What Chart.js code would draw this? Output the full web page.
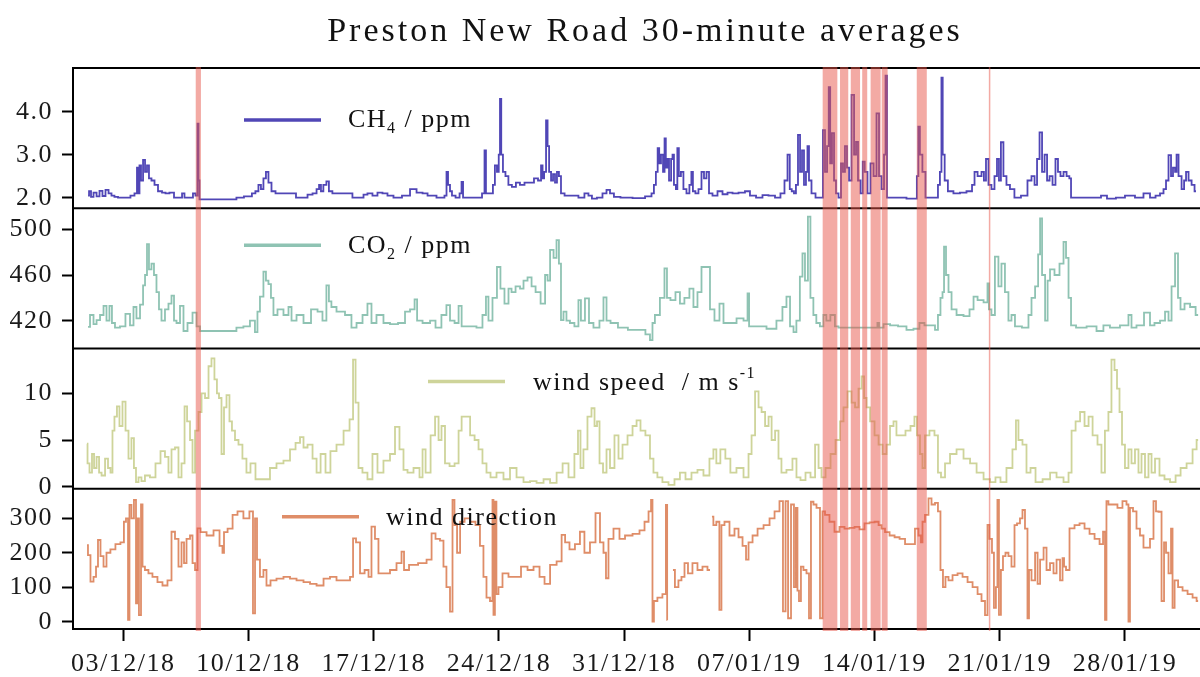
<!DOCTYPE html>
<html>
<head>
<meta charset="UTF-8">
<title>Preston New Road 30-minute averages</title>
<script src="https://cdn.jsdelivr.net/npm/chart.js"></script>
<style>
  body { margin: 0; background: #fff; }
  canvas { display: block; }
</style>
</head>
<body>
<canvas id="pnr-chart" width="1200" height="677"></canvas>
<script>
// time is in days since 03/12/18 00:00
const chartTitle = 'Preston New Road 30-minute averages';
const xTickDays = [0, 7, 14, 21, 28, 35, 42, 49, 56];
const xTickLabels = ['03/12/18', '10/12/18', '17/12/18', '24/12/18', '31/12/18', '07/01/19', '14/01/19', '21/01/19', '28/01/19'];

// flagged periods (red bands), start / end in days
const bandStart = [4.05, 39.10, 40.07, 40.67, 41.31, 41.78, 42.40, 44.36, 48.39];
const bandEnd   = [4.34, 39.92, 40.53, 41.19, 41.59, 42.34, 42.73, 44.92, 48.45];

// [day, CH4 ppm]
const ch4Series = [[-1.97,2.05],[-1.86,2.15],[-1.75,2.02],[-1.58,2.12],[-1.41,2.03],[-1.25,2.16],[-1.08,2.04],[-0.91,2.18],[-0.74,2.1],[-0.58,2.05],[-0.41,2.02],[-0.18,2.0],[0.26,2.0],[0.54,2.05],[0.71,2.1],[0.82,2.7],[0.88,2.1],[0.93,2.75],[1.05,2.4],[1.16,2.88],[1.27,2.6],[1.38,2.75],[1.49,2.45],[1.66,2.4],[1.83,2.3],[2.05,2.15],[2.28,2.12],[2.44,2.1],[2.72,2.12],[2.95,2.0],[3.23,2.0],[3.34,2.1],[3.5,2.0],[3.84,2.0],[3.95,2.1],[4.12,2.05],[4.18,3.72],[4.23,2.4],[4.29,1.96],[6.24,1.96],[6.41,2.0],[7.08,2.03],[7.3,2.1],[7.47,2.15],[7.64,2.3],[7.75,2.2],[7.92,2.45],[8.03,2.6],[8.2,2.35],[8.37,2.15],[8.65,2.1],[9.43,2.1],[9.88,2.0],[10.16,2.0],[10.44,2.07],[10.72,2.1],[10.89,2.2],[11.0,2.3],[11.1,2.15],[11.27,2.3],[11.44,2.38],[11.55,2.15],[11.83,2.1],[12.67,2.1],[12.95,2.0],[13.35,2.0],[13.51,2.07],[13.79,2.1],[14.07,2.05],[14.35,2.12],[14.63,2.1],[14.91,2.05],[15.3,2.0],[15.86,2.05],[16.2,2.2],[16.59,2.12],[16.87,2.1],[17.15,2.05],[17.87,2.0],[18.04,2.05],[18.1,2.6],[18.21,2.3],[18.32,2.15],[18.43,2.05],[18.72,2.0],[18.88,2.1],[18.94,2.37],[19.05,2.0],[19.94,2.0],[20.17,2.1],[20.22,3.1],[20.33,2.1],[20.61,2.1],[20.72,2.3],[20.83,2.75],[20.95,2.6],[21.03,3.0],[21.09,4.3],[21.17,3.0],[21.28,2.6],[21.45,2.5],[21.61,2.3],[21.84,2.25],[22.06,2.35],[22.29,2.3],[22.57,2.35],[22.85,2.35],[23.07,2.45],[23.3,2.4],[23.41,2.75],[23.47,2.45],[23.58,2.6],[23.69,3.8],[23.75,3.2],[23.86,2.6],[23.97,2.4],[24.08,2.55],[24.19,2.35],[24.3,2.6],[24.41,2.5],[24.53,2.1],[24.81,2.05],[25.25,2.05],[25.64,2.0],[25.92,2.1],[26.09,2.05],[26.31,1.98],[26.65,2.0],[26.93,2.1],[27.1,2.18],[27.32,2.1],[27.54,2.02],[28.05,2.0],[28.89,1.99],[29.45,2.03],[29.61,2.1],[29.72,2.3],[29.83,2.6],[29.92,3.15],[30.0,2.8],[30.12,3.0],[30.23,2.6],[30.29,3.38],[30.37,2.7],[30.45,2.9],[30.57,2.4],[30.68,2.9],[30.73,3.0],[30.84,2.3],[30.95,2.2],[31.0,3.15],[31.12,2.5],[31.23,2.6],[31.4,2.2],[31.57,2.1],[31.73,2.3],[31.79,2.6],[31.9,2.15],[32.07,2.1],[32.24,2.2],[32.41,2.6],[32.52,2.45],[32.69,2.6],[32.8,2.1],[33.08,2.05],[33.36,2.15],[33.64,2.08],[33.92,2.12],[34.2,2.1],[34.59,2.12],[34.92,2.15],[35.15,2.05],[35.6,2.0],[35.87,2.06],[36.27,2.05],[36.6,2.0],[36.88,2.1],[37.05,2.4],[37.22,3.0],[37.3,2.2],[37.44,2.15],[37.55,2.1],[37.66,2.3],[37.78,3.46],[37.89,2.6],[38.0,3.1],[38.11,2.3],[38.22,2.6],[38.28,3.2],[38.39,2.4],[38.56,2.1],[38.84,2.0],[39.06,2.0],[39.17,3.57],[39.29,2.6],[39.4,3.2],[39.48,4.57],[39.56,2.8],[39.68,3.5],[39.79,2.4],[39.9,2.1],[40.07,2.0],[40.18,2.8],[40.29,2.6],[40.4,3.2],[40.52,2.7],[40.63,2.4],[40.8,4.39],[40.91,3.0],[41.02,3.3],[41.13,2.4],[41.3,2.1],[41.38,2.84],[41.52,2.6],[41.69,2.1],[41.86,2.8],[42.03,2.5],[42.19,3.96],[42.31,2.5],[42.47,2.2],[42.59,3.0],[42.64,4.84],[42.75,2.0],[43.7,2.0],[43.87,1.98],[44.31,1.98],[44.42,2.5],[44.48,3.65],[44.59,3.0],[44.76,2.6],[44.93,2.0],[45.49,2.0],[45.6,2.3],[45.71,2.6],[45.77,4.79],[45.85,3.0],[45.99,2.4],[46.21,2.15],[46.61,2.1],[46.94,2.12],[47.34,2.15],[47.56,2.3],[47.62,2.6],[47.9,2.5],[48.06,2.6],[48.17,2.4],[48.29,2.9],[48.45,2.3],[48.62,2.2],[48.79,2.5],[48.9,2.9],[49.01,2.4],[49.12,3.29],[49.29,2.5],[49.46,2.3],[49.68,2.2],[49.96,2.0],[50.41,2.05],[50.69,2.4],[50.86,2.5],[51.03,2.3],[51.14,2.9],[51.31,3.52],[51.42,2.6],[51.59,3.0],[51.7,2.4],[51.87,2.5],[52.03,2.3],[52.2,2.9],[52.31,2.6],[52.48,2.5],[52.65,2.6],[52.82,2.5],[52.96,2.45],[53.01,2.0],[54.6,2.0],[54.72,2.05],[55.27,1.98],[55.72,2.0],[56.28,2.05],[56.84,2.0],[57.23,2.1],[57.57,2.0],[57.85,2.05],[58.07,2.1],[58.24,2.2],[58.35,2.4],[58.52,2.99],[58.63,2.5],[58.74,2.7],[58.86,2.6],[58.91,3.0],[59.08,2.5],[59.25,2.2],[59.36,2.4],[59.47,2.6],[59.64,2.4],[59.81,2.3],[59.97,2.15]];

// [day, CO2 ppm]
const co2Series = [[-1.97,414.7],[-1.75,425],[-1.58,417],[-1.41,420.6],[-1.19,425],[-1.02,433],[-0.86,420],[-0.69,433],[-0.58,418],[-0.35,414],[-0.02,415],[0.26,426],[0.49,416],[0.65,432],[0.82,422],[1.05,434],[1.16,451],[1.27,460],[1.38,487],[1.49,465],[1.66,470],[1.77,460],[1.94,445],[2.05,430],[2.22,420],[2.44,430],[2.61,435],[2.78,442],[2.89,420],[3.06,418],[3.28,433],[3.45,411],[3.73,418],[4.01,427],[4.18,415],[4.4,411],[6.13,411],[6.52,414],[6.91,415],[7.25,420],[7.47,410],[7.53,428],[7.75,441],[7.92,463],[8.03,455],[8.2,452],[8.31,440],[8.48,425],[8.76,430],[9.15,425],[9.32,432],[9.49,420],[9.88,425],[10.27,418],[10.72,430],[11.0,428],[11.27,420],[11.44,451],[11.55,437],[11.72,432],[12.12,428],[12.67,425],[12.84,414],[13.24,418],[13.51,425],[13.79,435],[13.96,418],[14.35,425],[14.74,418],[15.08,417],[15.64,418],[15.86,428],[16.2,430],[16.37,438.7],[16.48,420],[16.98,418],[17.32,420],[17.59,414],[17.98,425],[18.15,433.7],[18.38,420],[18.66,418],[18.83,433],[19.0,415],[19.55,415],[19.94,414],[20.22,425],[20.33,441],[20.5,420],[20.78,440],[21.0,467],[21.17,448],[21.45,435],[21.62,448],[21.79,445],[22.07,450],[22.29,448],[22.46,455],[22.74,458],[22.91,450],[23.19,445],[23.47,435],[23.69,460],[23.75,455],[23.97,482],[24.14,475],[24.3,490.6],[24.41,470],[24.53,420.6],[24.69,428],[24.86,420],[25.08,418],[25.36,415],[25.53,438],[25.64,420],[25.98,439.5],[26.09,418],[26.48,414],[26.76,420],[26.93,440.4],[27.1,420],[27.38,418],[27.93,414],[28.49,412],[29.05,412],[29.33,408],[29.56,403],[29.61,418],[29.83,425],[30.17,440],[30.34,465.8],[30.45,440],[30.73,438],[31.01,445],[31.23,435],[31.51,440],[31.79,448],[31.96,432],[32.24,445],[32.41,467],[32.69,467],[32.91,430],[33.19,420],[33.47,435],[33.64,418],[34.09,418],[34.48,422],[34.87,420],[34.93,444],[35.04,415],[35.6,415],[36.32,413],[36.71,420],[36.99,432],[37.16,441],[37.39,415],[37.55,410],[37.71,420],[37.94,458.5],[38.0,479],[38.22,455],[38.33,511],[38.5,440],[38.66,425],[38.83,418],[39.06,415],[39.22,425],[39.39,420],[39.67,425],[39.9,415],[40.07,414],[42.13,414],[42.19,418],[42.31,414],[42.7,417],[43.04,416],[43.59,415],[43.98,412],[44.37,413],[44.65,418],[44.93,416],[45.27,416],[45.49,412],[45.6,425],[45.77,440],[45.83,445],[45.94,484.8],[46.05,460],[46.22,445],[46.39,430],[46.78,425],[47.17,424],[47.45,430],[47.62,441],[47.9,438],[48.29,436],[48.34,452.7],[48.45,430],[48.62,425],[48.84,476],[49.01,450],[49.18,470],[49.4,445],[49.57,420],[49.74,425],[49.96,415],[50.52,414],[50.69,425],[50.86,440],[51.09,450],[51.2,478],[51.31,509.6],[51.42,460],[51.65,420],[51.7,455],[51.92,465],[52.2,460],[52.48,470],[52.65,489],[52.76,475],[52.93,440],[53.04,416],[53.49,414],[54.22,415],[54.6,411],[54.99,416],[55.33,414],[56.11,416],[56.28,425],[56.45,414],[56.84,416],[57.29,427],[57.51,416],[57.79,418],[58.13,420],[58.35,428],[58.52,420],[58.69,450],[58.91,479],[59.02,440],[59.19,430],[59.47,435],[59.81,432],[60.09,425]];

// [day, wind speed m/s]
const wsSeries = [[-2.03,4.6],[-1.97,2.5],[-1.81,1.5],[-1.69,3.5],[-1.58,2.0],[-1.41,3.2],[-1.3,1.5],[-1.13,1.2],[-0.91,3.0],[-0.8,2.0],[-0.63,1.5],[-0.58,6.0],[-0.41,7.5],[-0.3,8.6],[-0.13,6.5],[0.04,9.1],[0.21,6.0],[0.37,3.0],[0.54,5.2],[0.65,2.0],[0.77,0.5],[0.93,1.0],[1.1,0.6],[1.32,1.2],[1.66,1.0],[1.94,2.5],[2.22,3.8],[2.44,3.2],[2.61,1.5],[2.78,4.0],[3.0,4.2],[3.17,1.0],[3.34,2.5],[3.51,8.6],[3.62,7.0],[3.84,5.0],[3.9,1.5],[4.12,6.0],[4.29,8.0],[4.46,10.0],[4.68,9.5],[4.85,12.9],[5.01,13.75],[5.18,11.5],[5.29,10.0],[5.41,9.5],[5.57,3.5],[5.69,8.5],[5.85,9.8],[6.02,7.0],[6.13,6.0],[6.36,5.0],[6.52,4.5],[6.8,3.0],[6.97,1.5],[7.25,2.5],[7.53,0.8],[8.03,0.8],[8.37,2.0],[8.76,2.5],[9.15,2.8],[9.49,4.0],[9.77,4.7],[9.99,5.3],[10.16,4.2],[10.44,4.5],[10.72,3.0],[10.89,1.5],[11.17,3.5],[11.44,1.5],[11.72,3.8],[12.12,4.5],[12.51,6.0],[12.79,7.2],[12.9,13.6],[13.07,9.0],[13.23,2.0],[13.51,1.5],[13.79,0.8],[14.07,3.5],[14.35,1.5],[14.74,2.8],[15.08,3.5],[15.3,6.4],[15.58,4.0],[15.75,1.8],[16.03,1.5],[16.42,2.0],[16.7,1.0],[16.76,4.0],[17.04,1.5],[17.32,5.5],[17.54,7.5],[17.71,5.0],[17.87,6.5],[18.1,2.5],[18.38,2.2],[18.66,2.5],[18.83,6.0],[19.0,7.5],[19.28,7.5],[19.5,5.5],[19.78,5.0],[19.94,4.0],[20.22,2.5],[20.39,1.5],[20.67,1.0],[21.06,1.5],[21.45,0.8],[21.79,2.0],[22.18,1.0],[22.57,0.5],[22.91,0.6],[23.3,0.4],[23.69,0.8],[24.03,0.4],[24.42,1.5],[24.7,2.5],[25.08,1.0],[25.36,3.5],[25.48,6.0],[25.64,2.0],[25.81,4.0],[26.09,7.5],[26.26,8.4],[26.43,6.5],[26.54,7.0],[26.71,2.5],[26.93,1.5],[27.1,4.0],[27.32,2.0],[27.6,5.5],[27.77,3.0],[28.05,4.5],[28.33,5.5],[28.61,6.5],[28.78,7.1],[29.05,6.0],[29.33,5.5],[29.56,3.0],[29.72,1.5],[30.0,1.0],[30.28,0.5],[30.68,0.2],[30.95,0.8],[31.29,1.5],[31.57,0.8],[31.96,1.5],[32.24,1.8],[32.63,1.2],[32.91,3.0],[33.07,4.0],[33.24,2.5],[33.52,4.0],[33.8,3.0],[34.08,1.5],[34.48,2.0],[34.87,1.0],[35.04,3.5],[35.21,5.5],[35.43,10.2],[35.6,8.5],[35.77,8.0],[35.99,6.5],[36.16,7.5],[36.33,5.0],[36.55,6.0],[36.71,3.0],[36.88,1.5],[37.27,1.8],[37.55,3.0],[37.72,1.0],[38.0,0.7],[38.28,1.5],[38.56,1.0],[38.79,4.5],[38.95,2.0],[39.12,1.0],[39.4,2.0],[39.68,3.5],[39.96,5.0],[40.18,7.0],[40.35,8.5],[40.63,10.2],[40.8,9.0],[41.02,8.5],[41.19,10.5],[41.36,11.8],[41.47,9.5],[41.64,8.5],[41.86,7.0],[42.14,5.5],[42.31,4.5],[42.59,3.5],[42.75,4.5],[42.98,6.5],[43.14,7.0],[43.31,5.5],[43.59,5.5],[43.87,6.0],[44.15,6.5],[44.31,7.5],[44.43,5.5],[44.65,3.5],[44.71,2.0],[44.93,5.5],[45.21,6.0],[45.49,5.5],[45.6,1.5],[45.83,1.0],[46.05,2.5],[46.39,3.5],[46.78,4.0],[47.17,3.0],[47.51,2.5],[47.9,1.5],[48.29,0.8],[48.62,0.5],[48.9,1.0],[49.18,0.5],[49.57,2.0],[49.85,4.0],[49.96,7.1],[50.13,5.0],[50.41,4.5],[50.58,1.5],[50.86,2.0],[51.14,0.5],[51.65,0.8],[51.98,1.5],[52.37,1.0],[52.76,0.5],[52.93,1.5],[53.1,6.0],[53.38,7.0],[53.6,8.0],[53.88,6.5],[54.05,7.5],[54.33,5.5],[54.6,4.5],[54.77,1.5],[54.99,6.0],[55.16,8.0],[55.33,13.6],[55.5,12.5],[55.61,10.5],[55.78,8.0],[55.89,4.5],[56.11,2.0],[56.28,4.0],[56.45,2.5],[56.67,4.0],[56.84,1.5],[57.01,3.5],[57.23,1.0],[57.4,3.5],[57.57,1.5],[57.79,3.0],[58.07,1.2],[58.35,0.8],[58.69,0.5],[58.97,1.2],[59.25,2.0],[59.64,2.5],[59.92,4.0],[60.09,5.0]];

// [day, wind direction deg] (null = missing)
const wdSeries = [[-2.03,222],[-1.92,193],[-1.75,116],[-1.58,130],[-1.47,160],[-1.36,237],[-1.19,190],[-1.02,160],[-0.86,200],[-0.58,210],[-0.3,225],[-0.02,230],[0.09,290],[0.21,300],[0.32,5],[0.37,339],[0.54,300],[0.65,353],[0.77,53],[0.82,300],[0.93,19],[1.05,340],[1.1,160],[1.32,150],[1.49,140],[1.77,130],[2.05,115],[2.33,105],[2.61,120],[2.78,261],[3.0,240],[3.17,160],[3.34,230],[3.45,170],[3.62,240],[3.84,250],[3.9,170],[4.12,150],[4.18,271],[4.46,260],[4.85,250],[5.24,265],[5.52,220],[5.57,200],[5.69,260],[5.97,270],[6.25,310],[6.52,320],[6.91,300],[7.19,320],[7.31,24],[7.42,300],[7.53,180],[7.75,130],[7.92,150],[8.09,105],[8.37,120],[8.76,125],[9.15,130],[9.49,125],[9.88,120],[10.27,115],[10.61,110],[11.0,105],[11.39,125],[11.72,130],[12.12,120],[12.56,120],[12.79,130],[12.9,242],[13.12,230],[13.35,140],[13.63,150],[13.79,130],[13.96,276],[14.18,240],[14.35,140],[14.74,140],[15.08,150],[15.47,170],[15.64,203],[15.75,150],[16.2,165],[16.76,170],[17.15,180],[17.32,256],[17.59,240],[17.82,235],[17.98,160],[18.15,100],[18.38,29],[18.43,353],[18.6,280],[18.72,200],[18.94,290],[19.22,300],[19.55,290],[19.83,280],[20.05,220],[20.22,130],[20.39,70],[20.61,60],[20.67,353],[20.72,20],[20.83,348],[20.89,80],[21.06,100],[21.34,140],[21.73,130],[22.01,130],[22.46,160],[22.74,150],[23.13,160],[23.41,130],[23.69,110],[24.03,165],[24.42,175],[24.59,252],[24.81,230],[25.08,210],[25.42,225],[25.64,261],[25.92,200],[26.26,230],[26.54,315],[26.76,230],[26.93,200],[27.04,126],[27.21,240],[27.6,270],[27.88,240],[28.22,250],[28.72,255],[29.0,265],[29.28,290],[29.45,320],[29.56,353],[29.61,0],[29.72,60],[30.0,70],[30.28,80],[30.39,339],[30.42,5],[30.5,null],[30.73,150],[30.95,100],[31.12,120],[31.29,130],[31.46,170],[31.68,140],[31.96,170],[32.24,150],[32.52,160],[32.8,150],[32.85,null],[32.91,305],[33.07,280],[33.24,290],[33.41,34],[33.47,280],[33.75,290],[34.03,250],[34.31,270],[34.48,245],[34.76,220],[34.87,180],[35.04,230],[35.32,250],[35.6,270],[35.99,280],[36.27,300],[36.55,320],[36.82,350],[36.94,30],[37.11,350],[37.22,10],[37.44,340],[37.55,100],[37.66,330],[37.72,90],[37.83,60],[37.94,160],[38.11,150],[38.28,140],[38.39,10],[38.5,348],[38.67,340],[38.84,330],[39.06,10],[39.12,320],[39.34,310],[39.62,290],[39.9,261],[40.18,275],[40.46,270],[40.74,272],[41.02,275],[41.3,268],[41.58,285],[41.86,288],[42.14,290],[42.31,280],[42.47,270],[42.7,260],[42.98,250],[43.26,245],[43.54,240],[43.87,225],[44.15,225],[44.37,270],[44.54,250],[44.65,230],[44.71,290],[44.93,310],[45.1,358],[45.27,340],[45.49,345],[45.6,320],[45.77,150],[45.88,100],[46.05,130],[46.22,120],[46.5,135],[46.78,140],[47.06,130],[47.34,115],[47.62,100],[47.9,80],[48.06,60],[48.29,19],[48.34,281],[48.51,240],[48.62,200],[48.73,40],[48.84,100],[48.9,353],[49.01,20],[49.12,150],[49.24,190],[49.4,200],[49.57,190],[49.74,160],[49.91,280],[50.02,285],[50.24,300],[50.3,324],[50.52,270],[50.58,10],[50.69,150],[50.86,120],[51.09,200],[51.14,110],[51.37,180],[51.53,215],[51.7,150],[51.92,170],[52.09,140],[52.26,180],[52.48,120],[52.54,184],[52.65,160],[52.76,150],[53.04,271],[53.32,280],[53.6,285],[53.88,270],[54.16,255],[54.44,240],[54.72,225],[54.83,261],[54.94,5],[54.99,350],[55.16,340],[55.44,340],[55.72,330],[56.0,350],[56.17,340],[56.22,0],[56.34,330],[56.56,320],[56.73,270],[56.95,250],[57.12,215],[57.29,215],[57.51,240],[57.68,350],[57.79,320],[57.96,319],[58.13,60],[58.24,230],[58.35,200],[58.52,140],[58.63,270],[58.69,40],[58.86,120],[59.08,100],[59.36,90],[59.64,80],[59.92,70],[60.09,60]];

const ch4Ticks = [2, 3, 4];
const co2Ticks = [420, 460, 500];
const wsTicks = [0, 5, 10];
const wdTicks = [0, 100, 200, 300];

const ch4Color = '#5046b6';
const co2Color = '#8fc3b3';
const wsColor = '#ced49a';
const wdColor = '#df8d68';
const bandColor = 'rgba(232, 86, 74, 0.5)';
const tickFont = { family: 'Liberation Serif', size: 26 };

const toPoints = arr => arr.map(([d, v]) => ({ x: d, y: v }));
const fixedTicks = values => scale => { scale.ticks = values.map(v => ({ value: v })); };

function panelAxis(min, max, tickValues, fmt) {
  return {
    type: 'linear',
    position: 'left',
    stack: 'panels',
    stackWeight: 1,
    min: min,
    max: max,
    afterBuildTicks: fixedTicks(tickValues),
    afterFit: s => { s.width = 73; },
    border: { display: true, color: '#000', width: 2 },
    grid: { drawOnChartArea: false, drawTicks: true, tickLength: 11, tickWidth: 2, color: '#000' },
    ticks: { padding: 9, autoSkip: false, color: '#1a1a1a', font: tickFont, callback: fmt }
  };
}

const legendItems = [
  { axis: 'yCh4', color: ch4Color, x1: 244, x2: 321, lineDy: 52, tx: 348, textDy: 59, parts: [['CH', 0], ['4', 1], [' / ppm', 0]] },
  { axis: 'yCo2', color: co2Color, x1: 244, x2: 321, lineDy: 37, tx: 348, textDy: 45, parts: [['CO', 0], ['2', 1], [' / ppm', 0]] },
  { axis: 'yWs', color: wsColor, x1: 428, x2: 505, lineDy: 33, tx: 533, textDy: 41, parts: [['wind speed  / m s', 0], ['-1', 2]] },
  { axis: 'yWd', color: wdColor, x1: 282, x2: 359, lineDy: 28, tx: 386, textDy: 36, parts: [['wind direction', 0]] }
];

const textSpacing = {
  id: 'textSpacing',
  beforeDraw(chart) { chart.ctx.letterSpacing = '1.5px'; }
};

const panelLines = {
  id: 'panelLines',
  beforeDatasetsDraw(chart) {
    const { ctx, chartArea } = chart;
    ctx.save();
    ctx.strokeStyle = '#000';
    ctx.lineWidth = 2;
    ['yCh4', 'yCo2', 'yWs', 'yWd'].forEach(id => {
      const s = chart.scales[id];
      ctx.beginPath();
      ctx.moveTo(chartArea.left, s.top);
      ctx.lineTo(chartArea.right, s.top);
      ctx.stroke();
    });
    ctx.restore();
  }
};

const flagBands = {
  id: 'flagBands',
  afterDatasetsDraw(chart) {
    const { ctx, chartArea } = chart;
    const xs = chart.scales.x;
    ctx.save();
    ctx.fillStyle = bandColor;
    bandStart.forEach((b, i) => {
      const x1 = xs.getPixelForValue(b);
      const x2 = xs.getPixelForValue(bandEnd[i]);
      ctx.fillRect(x1, chartArea.top - 1, Math.max(x2 - x1, 1.5), chartArea.bottom - chartArea.top + 3);
    });
    ctx.restore();
  }
};

const panelLegends = {
  id: 'panelLegends',
  afterDraw(chart) {
    const ctx = chart.ctx;
    ctx.save();
    ctx.letterSpacing = '1.5px';
    legendItems.forEach(item => {
      const top = chart.scales[item.axis].top;
      ctx.strokeStyle = item.color;
      ctx.lineWidth = 3.5;
      ctx.beginPath();
      ctx.moveTo(item.x1, top + item.lineDy);
      ctx.lineTo(item.x2, top + item.lineDy);
      ctx.stroke();
      ctx.fillStyle = '#111';
      ctx.textBaseline = 'alphabetic';
      ctx.textAlign = 'left';
      let x = item.tx;
      const base = top + item.textDy;
      item.parts.forEach(([txt, kind]) => {
        ctx.font = kind === 0 ? '26px "Liberation Serif"' : '16px "Liberation Serif"';
        const y = kind === 1 ? base + 6 : (kind === 2 ? base - 12 : base);
        ctx.fillText(txt, x, y);
        x += ctx.measureText(txt).width;
      });
    });
    ctx.restore();
  }
};

const titleText = {
  id: 'titleText',
  afterDraw(chart) {
    const ctx = chart.ctx;
    ctx.save();
    ctx.letterSpacing = '3px';
    ctx.font = '34px "Liberation Serif"';
    ctx.fillStyle = '#111';
    ctx.textAlign = 'center';
    ctx.textBaseline = 'alphabetic';
    ctx.fillText(chartTitle, 645, 41);
    ctx.restore();
  }
};

// the source plots 30-minute averages, so each reading is held as a flat step
const lineSet = (label, series, axis, color) => ({
  label: label,
  data: toPoints(series),
  yAxisID: axis,
  borderColor: color,
  borderWidth: 1.8,
  pointRadius: 0,
  stepped: 'middle',
  spanGaps: false
});

new Chart(document.getElementById('pnr-chart'), {
  type: 'line',
  data: {
    datasets: [
      lineSet('CH4 / ppm', ch4Series, 'yCh4', ch4Color),
      lineSet('CO2 / ppm', co2Series, 'yCo2', co2Color),
      lineSet('wind speed / m s-1', wsSeries, 'yWs', wsColor),
      lineSet('wind direction', wdSeries, 'yWd', wdColor)
    ]
  },
  options: {
    responsive: false,
    animation: false,
    devicePixelRatio: 1,
    layout: { padding: { top: 68, left: 0, right: 0, bottom: 0 } },
    plugins: { legend: { display: false }, tooltip: { enabled: false }, title: { display: false } },
    scales: {
      x: {
        type: 'linear',
        min: -2.812,
        max: 60.195,
        afterBuildTicks: fixedTicks(xTickDays),
        afterFit: s => { s.height = 48; },
        border: { display: true, color: '#000', width: 2 },
        grid: { drawOnChartArea: false, drawTicks: true, tickLength: 12, tickWidth: 2, color: '#000' },
        ticks: {
          padding: 8, autoSkip: false, maxRotation: 0, color: '#1a1a1a', font: tickFont,
          callback: v => xTickLabels[xTickDays.indexOf(v)]
        }
      },
      yWd: panelAxis(-21.2, 385.7, wdTicks, v => String(v)),
      yWs: panelAxis(-0.22, 14.8, wsTicks, v => String(v)),
      yCo2: panelAxis(395.7, 518.4, co2Ticks, v => String(v)),
      yCh4: panelAxis(1.755, 5.016, ch4Ticks, v => v.toFixed(1))
    }
  },
  plugins: [textSpacing, panelLines, flagBands, panelLegends, titleText]
});
</script>
</body>
</html>
